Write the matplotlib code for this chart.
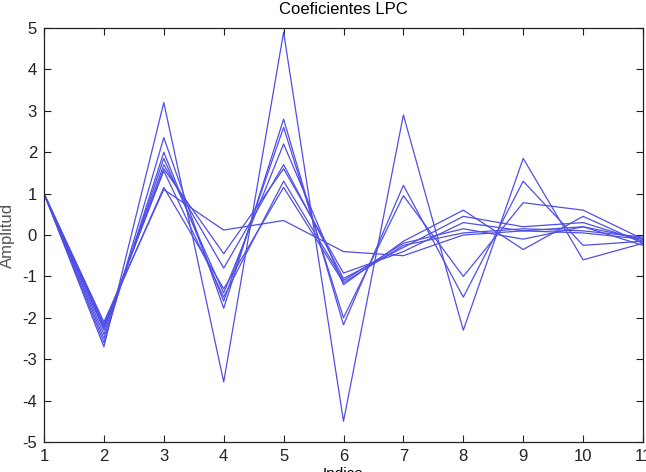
import matplotlib
matplotlib.use("Agg")
import matplotlib.pyplot as plt

plt.rcParams['font.family'] = ['Liberation Sans', 'DejaVu Sans']
plt.rcParams['axes.unicode_minus'] = False

# indice de coeficiente
indices = [1, 2, 3, 4, 5, 6, 7, 8, 9, 10, 11]

# coeficientes LPC de cada trama
lpc_1 = [1, -2.70, 3.20, -3.55, 4.90, -4.50, 2.90, -2.30, 1.85, -0.60, -0.20]
lpc_2 = [1, -2.60, 2.35, -1.77, 2.80, -2.17, 1.20, -1.50, 1.30, -0.25, -0.15]
lpc_3 = [1, -2.50, 2.00, -1.60, 2.60, -2.00, 0.95, -1.00, 0.78, 0.60, -0.10]
lpc_4 = [1, -2.40, 1.85, -1.40, 2.20, -1.20, -0.15, 0.60, -0.35, 0.45, -0.20]
lpc_5 = [1, -2.30, 1.70, -0.80, 1.70, -1.05, -0.30, 0.45, 0.20, 0.30, -0.15]
lpc_6 = [1, -2.25, 1.60, -0.45, 1.60, -0.92, -0.40, 0.30, 0.10, 0.05, -0.10]
lpc_7 = [1, -2.20, 1.55, -1.50, 1.30, -1.10, -0.20, 0.15, -0.10, 0.20, -0.25]
lpc_8 = [1, -2.15, 1.15, -1.30, 1.15, -1.15, -0.25, 0.05, 0.15, 0.10, -0.05]
lpc_9 = [1, -2.10, 1.10, 0.12, 0.35, -0.40, -0.50, 0.00, 0.10, 0.20, -0.10]

series = [lpc_1, lpc_2, lpc_3, lpc_4, lpc_5, lpc_6, lpc_7, lpc_8, lpc_9]

fig = plt.figure(figsize=(6.46, 4.72), dpi=100)
ax = fig.add_axes([44/646, 30/472, 599/646, 414/472])

for s in series:
    ax.plot(indices, s, color='#4f4fe6', linewidth=0.9)

ax.set_xlim(1, 11)
ax.set_ylim(-5, 5)
ax.set_xticks(range(1, 12))
ax.set_yticks(range(-5, 6))
ax.tick_params(direction='in', top=True, right=True, length=5, width=0.8,
               labelsize=12, pad=5, colors='#222222')
for sp in ax.spines.values():
    sp.set_linewidth(0.9)
    sp.set_color('#222222')

ax.set_title('Coeficientes LPC', fontsize=12, pad=10)
ax.set_ylabel('Amplitud', fontsize=12, labelpad=5, color='#555555')
ax.set_xlabel('Indice', fontsize=11, labelpad=2)

fig.savefig('out.png', dpi=100)
